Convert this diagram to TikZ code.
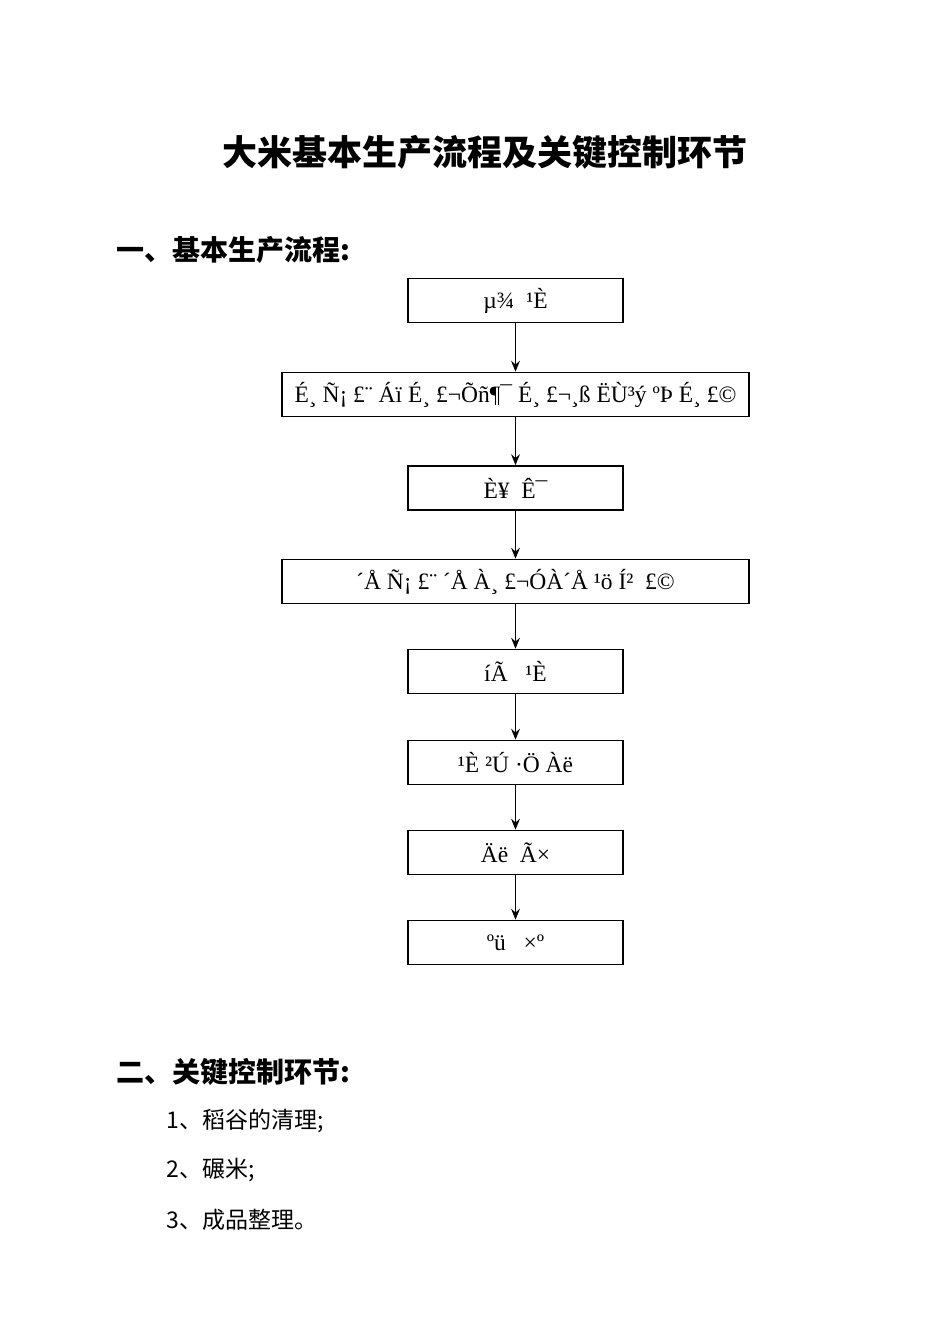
\documentclass[tikz,border=0pt]{standalone}
\usepackage{fontspec}
\setmainfont{Liberation Serif}
\newfontfamily\cjk{Noto Sans CJK SC}
\usetikzlibrary{arrows.meta}
\begin{document}
\begin{tikzpicture}[x=1pt,y=-1pt,
  box/.style={draw,line width=1.8pt,minimum height=44pt,inner sep=0pt,font=\fontsize{23.5}{25}\selectfont},
  sbox/.style={box,minimum width=215pt},
  lbox/.style={box,minimum width=467pt},
  arr/.style={-{Stealth[length=11pt,width=9pt,inset=4pt]},line width=0.8pt}]
\useasboundingbox[fill=white] (0,0) rectangle (950,1344);
\node[font=\cjk\bfseries\fontsize{35}{38}\selectfont] (title) at (485,152) {大米基本生产流程及关键控制环节};
\node[anchor=west,font=\cjk\bfseries\fontsize{28}{30}\selectfont] (h1) at (113,250) {一、基本生产流程:};
\node[sbox] (b1) at (515.5,300.5) {µ¾\ \ ¹È};
\node[lbox] (b2) at (515.5,394.5) {É¸ Ñ¡ £¨ Áï É¸ £¬Õñ¶¯ É¸ £¬¸ß ËÙ³ý ºÞ É¸ £©};
\node[sbox] (b3) at (515.5,488) {È¥ \ Ê¯};
\node[lbox] (b4) at (515.5,581.5) {´Å Ñ¡ £¨ ´Å À¸ £¬ÓÀ´Å ¹ö Í² \ £©};
\node[sbox] (b5) at (515.5,671.5) {íÃ \ \ ¹È};
\node[sbox] (b6) at (515.5,762.5) {¹È ²Ú ·Ö Àë};
\node[sbox] (b7) at (515.5,852.5) {Äë \ Ã×};
\node[sbox] (b8) at (515.5,942.5) {ºü \ \ ×º};
\foreach \a/\b in {b1/b2,b2/b3,b3/b4,b4/b5,b5/b6,b6/b7,b7/b8}
  \draw[arr] (\a.south) -- (\b.north);
\node[anchor=west,font=\cjk\bfseries\fontsize{28}{30}\selectfont] (h2) at (113,1072) {二、关键控制环节:};
\begin{scope}[every node/.style={anchor=west,font=\cjk\fontsize{23}{26}\selectfont}]
\node (i1) at (163,1121) {1、稻谷的清理;};
\node (i2) at (163,1170) {2、碾米;};
\node (i3) at (163,1220) {3、成品整理。};
\end{scope}
\end{tikzpicture}
\end{document}
